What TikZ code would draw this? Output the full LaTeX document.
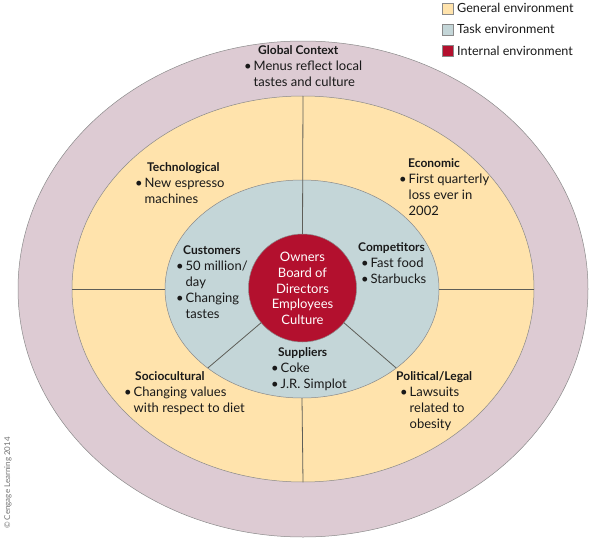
\documentclass[tikz,border=0pt]{standalone}
\usepackage{fontspec}
\setmainfont{Lato}
\usetikzlibrary{shapes.geometric}
\definecolor{ringpink}{HTML}{DDCBD3}
\definecolor{genyellow}{HTML}{FFE3AC}
\definecolor{taskblue}{HTML}{C4D6D8}
\definecolor{intred}{HTML}{B3102E}
\definecolor{divline}{HTML}{5E5E58}
\definecolor{edgegray}{HTML}{8A8A8A}
\newcommand{\bl}[1]{\makebox[9.5pt][l]{\textbullet}#1}
\newcommand{\ind}{\hspace*{9.5pt}}
\newcommand{\hd}[1]{{\bfseries\fontsize{12}{16.2}\selectfont #1}}
\begin{document}
\begin{tikzpicture}[x=1pt,y=-1pt,
  ring/.style={ellipse, draw=edgegray, line width=0.5pt, inner sep=0pt, outer sep=0pt},
  divider/.style={draw=divline, line width=0.8pt},
  blk/.style={font=\fontsize{13}{16.2}\selectfont, inner sep=0pt, anchor=base west, align=left, text=black!90},
  legbox/.style={draw=edgegray, line width=0.5pt, minimum width=11pt, minimum height=11pt, inner sep=0pt, anchor=north west},
  legtxt/.style={font=\fontsize{12.6}{14}\selectfont, inner sep=0pt, anchor=base west, text=black!90}
]
\useasboundingbox (0,0) rectangle (595,538);
% rings
\node[ring, fill=ringpink, minimum width=570pt, minimum height=496pt] (outer) at (303,289) {};
\node[ring, fill=genyellow, minimum width=462pt, minimum height=386pt] (general) at (303,289) {};
\node[ring, fill=taskblue, minimum width=274pt, minimum height=218pt] (task) at (302,289) {};
\node[circle, fill=intred, draw=edgegray, line width=0.5pt, minimum size=108pt, inner sep=0pt, outer sep=0pt] (internal) at (302.5,288) {};
% dividers
\draw[divider] (general.north) -- (internal.north);
\draw[divider] (task.south) -- (general.south);
\draw[divider] (general.west) -- (task.west);
\draw[divider] (task.east) -- (general.east);
\draw[divider] (internal.220) -- (task.220);
\draw[divider] (internal.320) -- (task.320);
% center text
\node[font=\fontsize{13}{15.6}\selectfont, text=white, align=center, inner sep=0pt] (inttext) at (302.5,288.5)
  {Owners\\Board of\\Directors\\Employees\\Culture};
% blocks (anchored at the baseline of their last line)
\node[blk] (global) at (244,86.9) {\hspace*{14pt}\hd{Global Context}\\\bl{Menus reflect local}\\\ind tastes and culture};
\node[blk] (tech) at (135,203.4) {\hspace*{12pt}\hd{Technological}\\\bl{New espresso}\\\ind machines};
\node[blk] (econ) at (399,215.6) {\hspace*{9pt}\hd{Economic}\\\bl{First quarterly}\\\ind loss ever in\\\ind 2002};
\node[blk] (cust) at (176,318.8) {\hspace*{7pt}\hd{Customers}\\\bl{50 million/}\\\ind day\\\bl{Changing}\\\ind tastes};
\node[blk] (comp) at (358,283.4) {\hd{Competitors}\\\hspace*{3pt}\bl{Fast food}\\\hspace*{3pt}\bl{Starbucks}};
\node[blk] (supp) at (271,388.5) {\hspace*{7pt}\hd{Suppliers}\\\bl{Coke}\\\bl{J.R. Simplot}};
\node[blk] (socio) at (124,412.4) {\hspace*{11pt}\hd{Sociocultural}\\\bl{Changing values}\\\ind with respect to diet};
\node[blk] (polit) at (396,428.6) {\hd{Political/Legal}\\\hspace*{4pt}\bl{Lawsuits}\\\hspace*{4pt}\ind related to\\\hspace*{4pt}\ind obesity};
% legend
\node[legbox, fill=genyellow] (lg1) at (442,3) {};
\node[legbox, fill=taskblue] (lg2) at (442,24) {};
\node[legbox, fill=intred] (lg3) at (442,45) {};
\node[legtxt] (lt1) at (457,12.5) {General environment};
\node[legtxt] (lt2) at (457,34) {Task environment};
\node[legtxt] (lt3) at (457,55.5) {Internal environment};
% credit
\node[rotate=90, font=\fontsize{8}{9}\selectfont, text=black!55, inner sep=0pt] (credit) at (8,483) {\textcopyright{} Cengage Learning 2014};
\end{tikzpicture}
\end{document}
